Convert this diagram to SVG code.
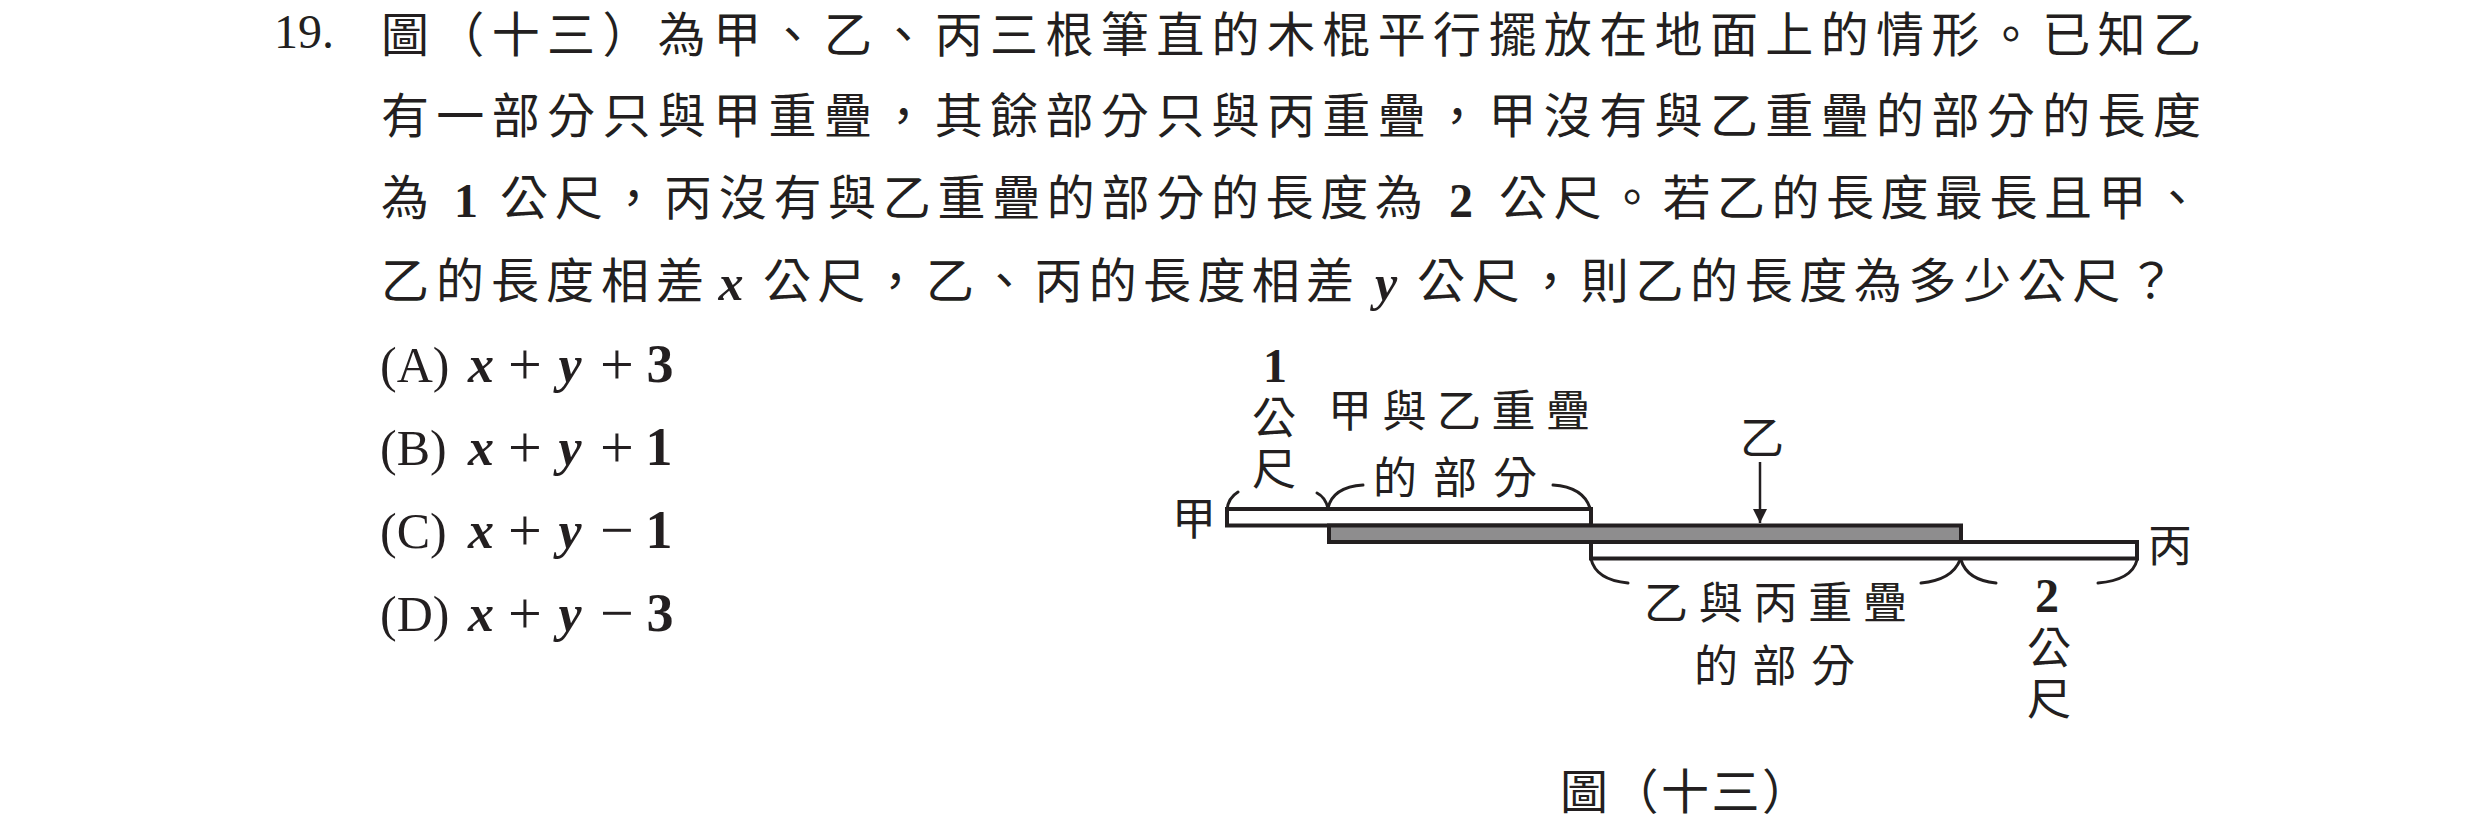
<svg xmlns="http://www.w3.org/2000/svg" width="2480" height="825" viewBox="0 0 2480 825">
<style>
.cjk{font-family:"Noto Sans CJK TC","Noto Sans CJK SC",sans-serif;font-size:48px;fill:#231f20}
.lbl{font-family:"Noto Sans CJK TC","Noto Sans CJK SC",sans-serif;font-size:44px;fill:#231f20}
.num{font-family:"Liberation Serif",serif;font-weight:bold;font-size:48px;fill:#231f20}
.ser{font-family:"Liberation Serif",serif;font-size:48px;fill:#231f20}
.var{font-family:"Liberation Serif",serif;font-weight:bold;font-style:italic;font-size:50px;fill:#231f20}
.opl{font-family:"Liberation Serif",serif;font-size:50px;fill:#231f20}
.opv{font-family:"Liberation Serif",serif;font-weight:bold;font-style:italic;font-size:52px;fill:#231f20;text-anchor:middle}
.opo{font-family:"Liberation Serif",serif;font-size:60px;fill:#231f20;text-anchor:middle}
.opn{font-family:"Liberation Serif",serif;font-weight:bold;font-size:54px;fill:#231f20;text-anchor:middle}
.stick{stroke:#231f20;stroke-width:4}
.brace{fill:none;stroke:#231f20;stroke-width:3;stroke-linecap:round}
</style>
<defs>
<marker id="ah" viewBox="0 0 10 10" refX="10" refY="5" markerWidth="14" markerHeight="16" markerUnits="userSpaceOnUse" orient="auto">
<path d="M0,0 L10,5 L0,10 z" fill="#231f20"/>
</marker>
</defs>
<rect width="2480" height="825" fill="#ffffff"/>

<g id="question">
<text class="ser" x="274" y="48" font-size="50">19.</text>
<text class="cjk" x="381" y="52" textLength="1820" lengthAdjust="spacing">圖（十三）為甲、乙、丙三根筆直的木棍平行擺放在地面上的情形。已知乙</text>
<text class="cjk" x="381" y="133" textLength="1820" lengthAdjust="spacing">有一部分只與甲重疊，其餘部分只與丙重疊，甲沒有與乙重疊的部分的長度</text>
<text class="cjk" x="381" y="215">為</text>
<text class="num" x="466" y="217" text-anchor="middle">1</text>
<text class="cjk" x="500" y="215" textLength="923" lengthAdjust="spacing">公尺，丙沒有與乙重疊的部分的長度為</text>
<text class="num" x="1461" y="217" text-anchor="middle">2</text>
<text class="cjk" x="1499" y="215" textLength="702" lengthAdjust="spacing">公尺。若乙的長度最長且甲、</text>
<text class="cjk" x="381" y="298" textLength="323" lengthAdjust="spacing">乙的長度相差</text>
<text class="var" x="731" y="300" text-anchor="middle">x</text>
<text class="cjk" x="763" y="298" textLength="591" lengthAdjust="spacing">公尺，乙、丙的長度相差</text>
<text class="var" x="1386" y="300" text-anchor="middle">y</text>
<text class="cjk" x="1417" y="298" textLength="758" lengthAdjust="spacing">公尺，則乙的長度為多少公尺？</text>
</g>

<g id="options">
<g id="opt-A">
<text class="opl" x="380" y="382">(A)</text>
<text class="opv" x="481" y="382">x</text>
<text class="opo" x="525" y="384">+</text>
<text class="opv" x="570" y="382">y</text>
<text class="opo" x="617" y="384">+</text>
<text class="opn" x="660" y="382">3</text>
</g>
<g id="opt-B">
<text class="opl" x="380" y="465">(B)</text>
<text class="opv" x="481" y="465">x</text>
<text class="opo" x="525" y="467">+</text>
<text class="opv" x="570" y="465">y</text>
<text class="opo" x="617" y="467">+</text>
<text class="opn" x="659" y="465">1</text>
</g>
<g id="opt-C">
<text class="opl" x="380" y="548">(C)</text>
<text class="opv" x="481" y="548">x</text>
<text class="opo" x="525" y="550">+</text>
<text class="opv" x="570" y="548">y</text>
<text class="opo" x="617" y="550">−</text>
<text class="opn" x="659" y="548">1</text>
</g>
<g id="opt-D">
<text class="opl" x="380" y="631">(D)</text>
<text class="opv" x="481" y="631">x</text>
<text class="opo" x="525" y="633">+</text>
<text class="opv" x="570" y="631">y</text>
<text class="opo" x="617" y="633">−</text>
<text class="opn" x="660" y="631">3</text>
</g>
</g>

<g id="stick-jia">
<rect class="stick" x="1227" y="509" width="364" height="16.5" fill="#ffffff"/>
<text class="lbl" x="1194" y="535" text-anchor="middle">甲</text>
</g>
<g id="stick-bing">
<rect class="stick" x="1591" y="542" width="546" height="16.5" fill="#ffffff"/>
<text class="lbl" x="2170" y="562" text-anchor="middle">丙</text>
</g>
<g id="stick-yi">
<rect class="stick" x="1329" y="525.5" width="632" height="16.5" fill="#8e8d8e"/>
<text class="lbl" x="1762" y="454" text-anchor="middle">乙</text>
</g>

<g id="connectors">
<line x1="1760" y1="462" x2="1760" y2="523" stroke="#231f20" stroke-width="2.5" marker-end="url(#ah)"/>
<path class="brace" d="M1238,492 Q1228,498 1227,510"/>
<path class="brace" d="M1317,493 Q1325,497 1328,508"/>
<path class="brace" d="M1328,508 Q1333,487 1363,485"/>
<path class="brace" d="M1553,485 Q1583,487 1590,508"/>
<path class="brace" d="M1591,559 Q1596,580 1628,583"/>
<path class="brace" d="M1921,583 Q1952,580 1960,560"/>
<path class="brace" d="M1961,560 Q1967,580 1996,583"/>
<path class="brace" d="M2098,583 Q2132,580 2137,560"/>
</g>

<g id="label-jia-rest">
<text class="num" x="1275" y="382" text-anchor="middle" font-size="50">1</text>
<text class="lbl" x="1274" y="434" text-anchor="middle">公</text>
<text class="lbl" x="1274" y="485" text-anchor="middle">尺</text>
</g>
<g id="label-jia-yi-overlap">
<text class="lbl" x="1328" y="427" textLength="262" lengthAdjust="spacing">甲與乙重疊</text>
<text class="lbl" x="1373" y="494" textLength="164" lengthAdjust="spacing">的部分</text>
</g>
<g id="label-yi-bing-overlap">
<text class="lbl" x="1644" y="619" textLength="263" lengthAdjust="spacing">乙與丙重疊</text>
<text class="lbl" x="1694" y="682" textLength="161" lengthAdjust="spacing">的部分</text>
</g>
<g id="label-bing-rest">
<text class="num" x="2047" y="612" text-anchor="middle">2</text>
<text class="lbl" x="2049" y="664" text-anchor="middle">公</text>
<text class="lbl" x="2049" y="715" text-anchor="middle">尺</text>
</g>

<g id="caption">
<text class="cjk" x="1560" y="809" font-size="46" textLength="250" lengthAdjust="spacing">圖（十三）</text>
</g>
</svg>
